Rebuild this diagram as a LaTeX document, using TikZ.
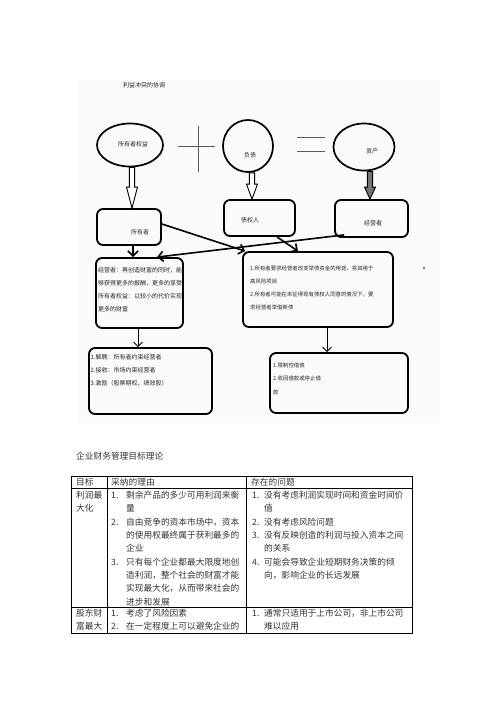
\documentclass[tikz,border=0pt]{standalone}
\usepackage{fontspec}
\newfontfamily\cjk{Noto Sans CJK SC}
\usetikzlibrary{arrows.meta,calc,shapes.geometric}
\newcommand\hollowarr[4]{% start, end, head length, fill
  \draw[line width=0.9pt, fill=#4] let \p1=(#1), \p2=(#2) in
    (\x2-2.6pt,\y1) -- (\x2-2.6pt,\y2+#3) -- (\x2-5.5pt,\y2+#3) -- (\x2,\y2)
    -- (\x2+5.5pt,\y2+#3) -- (\x2+2.6pt,\y2+#3) -- (\x2+2.6pt,\y1) -- cycle;}
\begin{document}
\begin{tikzpicture}[x=1pt,y=-1pt,
  ell/.style={draw, ellipse, line width=1.7pt, inner sep=0, minimum width=#1},
  box/.style={draw, rounded corners=6pt, line width=1.8pt, inner sep=0},
  dtext/.style={font=\cjk\fontsize{6}{6}\selectfont, inner sep=0, anchor=base west, text=black!85},
  rtext/.style={font=\cjk\fontsize{5.4}{5.4}\selectfont, inner sep=0, anchor=base west, text=black!85},
  ttext/.style={font=\cjk\fontsize{8.7}{8.7}\selectfont, inner sep=0, anchor=base west, text=black!80},
  conn/.style={line width=1.6pt, -{Straight Barb[length=5pt,width=10pt]}},
  thinconn/.style={line width=0.8pt, -{Straight Barb[length=4.5pt,width=9pt]}},
  sign/.style={line width=1pt, black!65},
]
\useasboundingbox (0,0) rectangle (496,702);
\fill[black!1.8] (78,80) rectangle (440,423);

% title
\node[dtext] (title) at (123,{85+2.3}) {利益冲突的协调};

% ellipses
\node[ell=66pt, minimum height=43pt] (e1) at (130,145) {};
\node[ell=50pt, minimum height=52pt] (e2) at (248,146) {};
\node[ell=61pt, minimum height=47pt] (e3) at (364,147) {};
\node[dtext] (e1t) at (118,{144+2.3}) {所有者权益};
\node[dtext] (e2t) at (244,{155+2.3}) {负债};
\node[dtext] (e3t) at (366,{151+2.3}) {资产};

% plus and equals
\draw[sign] (178,146) -- (215,146);
\draw[sign] (198,126) -- (198,172);
\draw[sign] (297,137) -- (325,137);
\draw[sign] (297,151) -- (325,151);

% boxes
\node[box, minimum width=64pt, minimum height=36pt] (b1) at (129,227) {};
\node[box, minimum width=71pt, minimum height=36pt] (b2) at (259.5,218) {};
\node[box, minimum width=73pt, minimum height=37pt] (b3) at (371.5,218.5) {};
\node[box, minimum width=87pt, minimum height=70pt] (b4) at (139.5,293) {};
\node[box, minimum width=150pt, minimum height=75pt] (b5) at (318,289.5) {};
\node[box, minimum width=123pt, minimum height=66pt] (b6) at (150.5,381) {};
\node[box, minimum width=138pt, minimum height=60pt] (b7) at (339,383) {};

\node[dtext] (b1t) at (131,{232+2.3}) {所有者};
\node[dtext] (b2t) at (241,{220+2.3}) {债权人};
\node[dtext] (b3t) at (364,{223+2.3}) {经营者};

\foreach \s [count=\i] in {经营者：再创造财富的同时，能,够获得更多的报酬，更多的享受,所有者权益：以较小的代价实现,更多的财富}
  \node[dtext] (b4t-\i) at (98,{270+2.3+13*(\i-1)}) {\s};
\foreach \s [count=\i] in {1.所有者要求经营者改变举债资金的用途，将其用于,高风险项目,2.所有者可能在未征得现有债权人同意的情况下，要,求经营者举借新债}
  \node[rtext] (b5t-\i) at (250,{268+2.1+13*(\i-1)}) {\s};
\foreach \s [count=\i] in {1.解聘：所有者约束经营者,2.接收：市场约束经营者,3.激励（股票期权、绩效股）}
  \node[dtext] (b6t-\i) at (90.5,{357+2.3+13*(\i-1)}) {\s};
\foreach \s [count=\i] in {1.限制性借债,2.收回借款或停止借,款}
  \node[rtext] (b7t-\i) at (273,{365+2.1+13.5*(\i-1)}) {\s};

% hollow arrows
\hollowarr{e1.south}{$(b1.north)+(3pt,0)$}{21pt}{white}
\hollowarr{e2.south}{$(b2.north)+(-7.5pt,0)$}{15pt}{white}
\hollowarr{e3.south}{$(b3.north)+(-1.5pt,0)$}{12pt}{black!55}

% connectors
\draw[conn] ([xshift=4pt]b1.south) -- ([xshift=-6.5pt]b4.north);
\draw[conn] ([yshift=3pt]b1.east) -- ([xshift=3pt]b5.north west);
\draw[conn] ([xshift=17.5pt]b2.south) -- ([xshift=-20pt]b5.north);
\draw[conn] ([xshift=10pt,yshift=3pt]b3.south west) -- ([xshift=17.5pt]b4.north);
\draw[thinconn] ([xshift=-1.5pt]b4.south) -- ([xshift=-12.5pt]b6.north);
\draw[thinconn] ([xshift=9pt]b5.south) -- ([xshift=-12pt]b7.north);

% stray dot
\fill (424,268) circle (0.9pt);

% table
\node[ttext] (ttitle) at (76,{456+3.3}) {企业财务管理目标理论};
\draw[line width=1pt] (71,476) rectangle (412,633);
\draw[line width=1pt] (71,488) -- (412,488);
\draw[line width=1pt] (71,607) -- (412,607);
\draw[line width=1pt] (107,476) -- (107,633);
\draw[line width=1pt] (246,476) -- (246,633);

\node[ttext] (h2) at (111,{482+3.3}) {采纳的理由};
\node[ttext] (h3) at (251,{482+3.3}) {存在的问题};
\foreach \yy/\s [count=\i] in {482/目标,495/利润最,508.3/大化,613/股东财,626/富最大}
  \node[ttext] (c1-\i) at (76,{\yy+3.3}) {\s};
\foreach \yy/\s [count=\i] in {495/1.,521.7/2.,561.7/3.,613/1.,626/2.}
  \node[ttext] (c2n-\i) at (111,{\yy+3.3}) {\s};
\foreach \yy/\s [count=\i] in {495/剩余产品的多少可用利润来衡,508.3/量,521.7/自由竞争的资本市场中，资本,535/的使用权最终属于获利最多的,548.3/企业,561.7/只有每个企业都最大限度地创,575/造利润，整个社会的财富才能,588.3/实现最大化，从而带来社会的,601.7/进步和发展,613/考虑了风险因素,626/在一定程度上可以避免企业的}
  \node[ttext] (c2t-\i) at (126,{\yy+3.3}) {\s};
\foreach \yy/\s [count=\i] in {495/1.,521.7/2.,535/3.,561.7/4.,613/1.}
  \node[ttext] (c3n-\i) at (252,{\yy+3.3}) {\s};
\foreach \yy/\s [count=\i] in {495/没有考虑利润实现时间和资金时间价,508.3/值,521.7/没有考虑风险问题,535/没有反映创造的利润与投入资本之间,548.3/的关系,561.7/可能会导致企业短期财务决策的倾,575/向，影响企业的长远发展,613/通常只适用于上市公司，非上市公司,626/难以应用}
  \node[ttext] (c3t-\i) at (264,{\yy+3.3}) {\s};
\end{tikzpicture}
\end{document}
